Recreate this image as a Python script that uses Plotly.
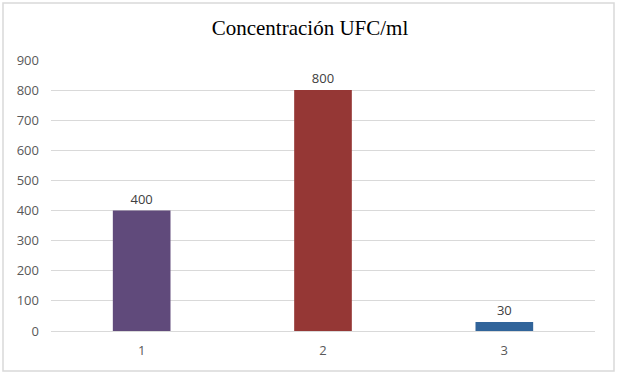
import plotly.graph_objects as go

categories = ["1", "2", "3"]
values = [400, 800, 30]
colors = ["#604A7B", "#953735", "#31649A"]
tick_vals = [0, 100, 200, 300, 400, 500, 600, 700, 800, 900]

W, H = 620, 375
ML, MR, MT, MB = 51, 25, 60, 44
pw, ph = W - ML - MR, H - MT - MB

fig = go.Figure(go.Bar(
    x=categories, y=values,
    marker=dict(color=colors, line=dict(width=0)),
    width=0.318,
    text=[str(v) for v in values],
    textposition="outside",
    textfont=dict(family="Open Sans, Liberation Sans, sans-serif", size=13, color="#404040"),
    cliponaxis=False,
))

def px_x(p):
    return (p - ML) / pw

def px_y(p):
    return (H - MB - p) / ph

fig.add_shape(type="rect", xref="paper", yref="paper",
              x0=px_x(3), x1=px_x(614), y0=px_y(371), y1=px_y(3),
              line=dict(color="#D9D9D9", width=1.5), layer="below")

fig.update_layout(
    width=W, height=H,
    margin=dict(l=ML, r=MR, t=MT, b=MB),
    paper_bgcolor="white", plot_bgcolor="white",
    title=dict(text="Concentración UFC/ml", x=0.5, xanchor="center",
               y=1 - 28 / H, yanchor="middle",
               font=dict(family="Liberation Serif, Times New Roman, serif", size=21, color="#000000")),
    showlegend=False,
    xaxis=dict(type="category", showgrid=False, showline=True, linecolor="#D9D9D9", linewidth=1,
               ticks="", ticklabelstandoff=7,
               tickfont=dict(family="Open Sans, Liberation Sans, sans-serif", size=13, color="#595959")),
    yaxis=dict(range=[0, 900], tickvals=tick_vals, showgrid=True, gridcolor="#D9D9D9", gridwidth=1,
               zeroline=False, showline=False, ticks="", ticklabelstandoff=11,
               tickfont=dict(family="Open Sans, Liberation Sans, sans-serif", size=13, color="#595959")),
)

fig.write_html("out.html", config={"displayModeBar": False},
               post_script="document.body.style.margin='0';document.body.style.overflow='hidden';")
